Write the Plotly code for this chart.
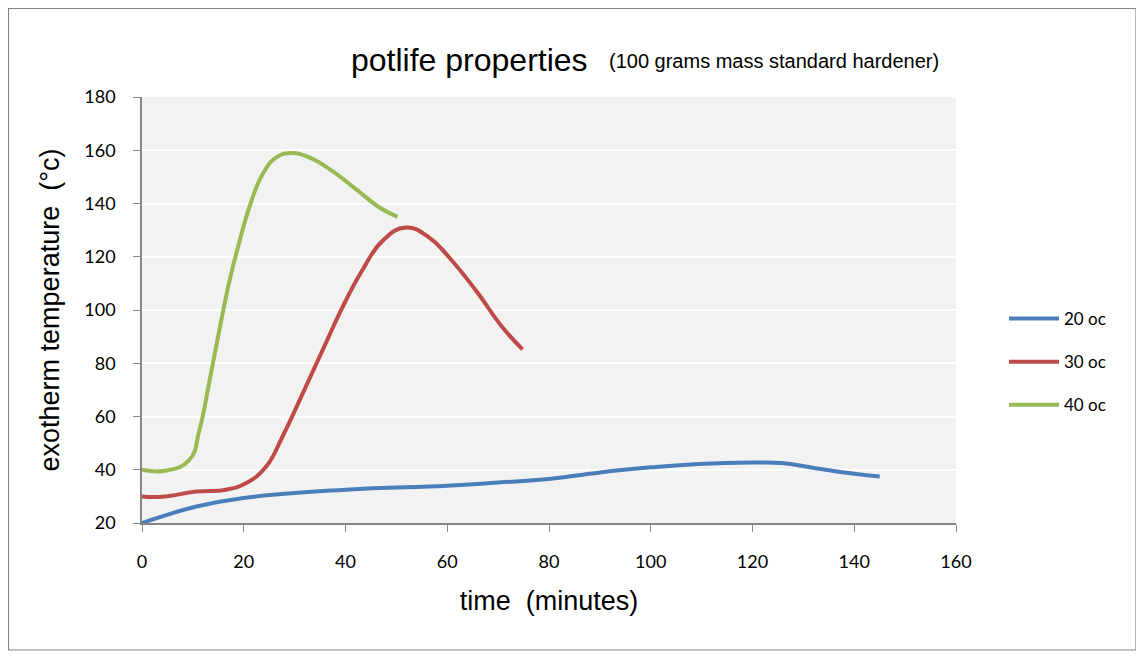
import plotly.graph_objects as go

# time (minutes) and exotherm temperature for each series
t_20 = [0, 4, 10.7, 20, 40, 60, 70, 80, 90, 100, 109.4, 120, 125.7, 132.3, 140, 145]
T_20 = [20, 22.5, 26.2, 29.4, 32.5, 34, 35.2, 36.5, 39, 40.9, 42.2, 42.7, 42.5, 40.6, 38.5, 37.5]

t_30 = [0, 4.1, 10.7, 16.5, 20.5, 24.4, 27.6, 31.6, 35.5, 39.4, 43.3, 47.3, 51.8, 56.4, 60.3, 65.6, 70.8, 74.8]
T_30 = [30, 29.9, 31.8, 32.5, 35, 41.2, 52.4, 68.7, 84.9, 101, 114.9, 126, 131, 127.3, 119.9, 107.4, 93.6, 85.2]

t_40 = [0, 4.8, 9.3, 11.3, 13.3, 15.2, 17.2, 19.2, 21.1, 23.7, 26.4, 29.6, 32.9, 36.8, 42, 46.6, 50.2]
T_40 = [40, 39.7, 43.7, 55, 73.7, 92.4, 111, 126, 138.6, 151, 157.3, 159, 157.3, 153, 145.5, 138.6, 135]

series_names = ["20 oc", "30 oc", "40 oc"]
series_colors = ["#4a7ebb", "#be4b48", "#98b954"]

x_ticks = [0, 20, 40, 60, 80, 100, 120, 140, 160]
y_ticks = [20, 40, 60, 80, 100, 120, 140, 160, 180]

fig = go.Figure()
for name, color, xs, ys in zip(series_names, series_colors, [t_20, t_30, t_40], [T_20, T_30, T_40]):
    fig.add_trace(go.Scatter(
        x=xs, y=ys, mode="lines", name=name, legendgroup=name,
        line=dict(color=color, width=4, shape="spline", smoothing=1.3),
    ))

axis_color = "#868686"
# page is offset by 8px body margin; reference plot area is x 142..956, y 97..523
fig.update_layout(
    width=1144, height=658,
    margin=dict(l=134, r=196, t=89, b=143),
    paper_bgcolor="white",
    plot_bgcolor="#f2f2f2",
    showlegend=True,
    legend=dict(x=(1004 - 142) / 814, y=(523 - 362) / 426, xanchor="left", yanchor="middle",
                font=dict(family="Lato, Liberation Sans, sans-serif", size=17, color="#000"),
                tracegroupgap=18, itemwidth=50, bgcolor="rgba(0,0,0,0)"),
    xaxis=dict(range=[0, 160], tickvals=x_ticks, ticks="outside", ticklen=7, tickcolor=axis_color,
               showline=True, linecolor=axis_color, linewidth=1.5, showgrid=False, zeroline=False,
               ticklabelstandoff=15,
               tickfont=dict(family="Lato, Liberation Sans, sans-serif", size=18, color="#000"),
               title=dict(text="time  (minutes)", standoff=20,
                          font=dict(family="Liberation Sans, Arial, sans-serif", size=27, color="#000"))),
    yaxis=dict(range=[20, 180], tickvals=y_ticks, ticks="outside", ticklen=7, tickcolor=axis_color,
               showline=True, linecolor=axis_color, linewidth=1.5, showgrid=True, gridcolor="white",
               gridwidth=2, zeroline=False, ticklabelstandoff=14,
               tickfont=dict(family="Lato, Liberation Sans, sans-serif", size=18, color="#000"),
               title=dict(text="exotherm temperature  (\u00b0c)", standoff=17,
                          font=dict(family="Liberation Sans, Arial, sans-serif", size=27, color="#000"))),
    annotations=[
        dict(text="potlife properties", xref="paper", yref="paper",
             x=(349 - 142) / 814, y=(523 - 60) / 426, xanchor="left", yanchor="middle",
             showarrow=False, font=dict(family="Liberation Sans, Arial, sans-serif", size=32, color="#000")),
        dict(text="(100 grams mass standard hardener)", xref="paper", yref="paper",
             x=(607 - 142) / 814, y=(523 - 61) / 426, xanchor="left", yanchor="middle",
             showarrow=False, font=dict(family="Liberation Sans, Arial, sans-serif", size=20, color="#000")),
    ],
    shapes=[
        dict(type="rect", xref="paper", yref="paper",
             x0=(8.5 - 142) / 814, x1=(1136 - 142) / 814,
             y0=(523 - 650) / 426, y1=(523 - 8.5) / 426,
             line=dict(color="#868686", width=1.2), fillcolor="rgba(0,0,0,0)", layer="below"),
    ],
)

fig.write_html("out.html")
